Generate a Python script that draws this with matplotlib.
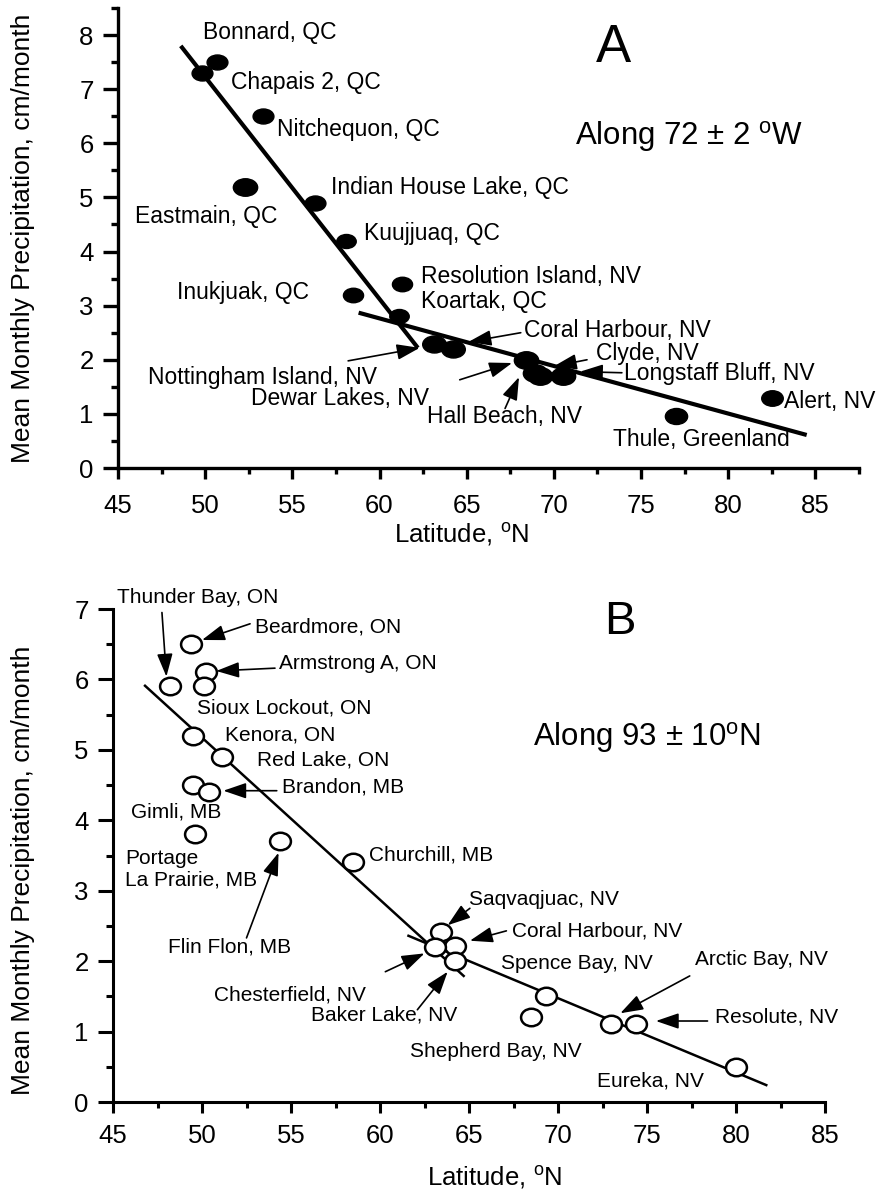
import matplotlib
matplotlib.use("Agg")
import matplotlib.pyplot as plt
from matplotlib.path import Path
from matplotlib.ticker import MultipleLocator
import numpy as np

plt.rcParams["font.family"] = ["Liberation Sans", "DejaVu Sans"]
plt.rcParams["mathtext.fontset"] = "custom"
plt.rcParams["mathtext.rm"] = "Liberation Sans"
plt.rcParams["mathtext.it"] = "Liberation Sans:italic"

# ---- panel A data: along 72 +/- 2 W (filled dots)
lat_a = [49.8, 50.7, 53.3, 52.3, 56.3, 58.1, 61.3, 58.5, 61.1, 63.1, 64.2,
         68.4, 68.9, 69.2, 70.5, 77.0, 82.5]
precip_a = [7.3, 7.5, 6.5, 5.2, 4.9, 4.2, 3.4, 3.2, 2.8, 2.3, 2.2,
            2.0, 1.75, 1.7, 1.7, 0.97, 1.3]
fit_a1_x = [48.6, 62.2]
fit_a1_y = [7.8, 2.22]
fit_a2_x = [58.8, 84.5]
fit_a2_y = [2.87, 0.61]

# ---- panel B data: along 93 +/- 10 (open circles)
lat_b = [48.2, 49.4, 50.2, 50.1, 49.5, 51.1, 49.5, 50.4, 49.6, 54.4, 58.5,
         63.4, 64.2, 63.1, 64.2, 69.3, 68.5, 73.0, 74.4, 80.0]
precip_b = [5.9, 6.5, 6.1, 5.9, 5.2, 4.9, 4.5, 4.4, 3.8, 3.7, 3.41,
            2.42, 2.22, 2.2, 2.0, 1.5, 1.21, 1.11, 1.11, 0.5]
fit_b1_x = [46.8, 64.7]
fit_b1_y = [5.91, 1.79]
fit_b2_x = [61.6, 81.7]
fit_b2_y = [2.36, 0.24]

# station labels: (text, x, y) left edge / vertical centre
labels_a = [
    ("Bonnard, QC", 49.9, 8.04),
    ("Chapais 2, QC", 51.5, 7.12),
    ("Nitchequon, QC", 54.1, 6.25),
    ("Indian House Lake, QC", 57.2, 5.18),
    ("Eastmain, QC", 46.0, 4.64),
    ("Kuujjuaq, QC", 59.1, 4.34),
    ("Resolution Island, NV", 62.4, 3.53),
    ("Koartak, QC", 62.4, 3.07),
    ("Inukjuak, QC", 48.4, 3.25),
    ("Coral Harbour, NV", 68.3, 2.55),
    ("Clyde, NV", 72.4, 2.11),
    ("Longstaff Bluff, NV", 74.0, 1.75),
    ("Alert, NV", 83.2, 1.22),
    ("Thule, Greenland", 73.4, 0.52),
    ("Hall Beach, NV", 62.7, 0.96),
    ("Dewar Lakes, NV", 52.6, 1.29),
    ("Nottingham Island, NV", 46.7, 1.68),
]
arrows_a = [  # tail -> head
    ((68.1, 2.5), (65.1, 2.33)),
    ((71.9, 2.0), (70.0, 1.88)),
    ((73.9, 1.76), (71.5, 1.78)),
    ((67.2, 1.1), (68.0, 1.68)),
    ((64.6, 1.63), (67.6, 1.94)),
    ((58.2, 1.98), (62.3, 2.22)),
]

labels_b = [
    ("Thunder Bay, ON", 45.2, 7.16),
    ("Beardmore, ON", 53.0, 6.75),
    ("Armstrong A, ON", 54.3, 6.23),
    ("Sioux Lockout, ON", 49.7, 5.6),
    ("Kenora, ON", 51.3, 5.21),
    ("Red Lake, ON", 53.1, 4.86),
    ("Brandon, MB", 54.5, 4.47),
    ("Gimli, MB", 46.0, 4.12),
    ("Portage\nLa Prairie, MB", 45.7, 3.30),
    ("Flin Flon, MB", 48.1, 2.2),
    ("Churchill, MB", 59.4, 3.51),
    ("Saqvaqjuac, NV", 65.0, 2.87),
    ("Coral Harbour, NV", 67.4, 2.43),
    ("Chesterfield, NV", 50.7, 1.52),
    ("Baker Lake, NV", 56.1, 1.24),
    ("Spence Bay, NV", 66.8, 1.97),
    ("Shepherd Bay, NV", 61.7, 0.71),
    ("Arctic Bay, NV", 77.7, 2.02),
    ("Resolute, NV", 78.8, 1.21),
    ("Eureka, NV", 72.2, 0.3),
]
arrows_b = [
    ((47.75, 6.95), (48.0, 6.04)),
    ((52.7, 6.79), (50.0, 6.56)),
    ((54.1, 6.16), (50.8, 6.12)),
    ((54.2, 4.42), (51.2, 4.42)),
    ((52.5, 2.33), (54.3, 3.54)),
    ((65.05, 2.75), (63.8, 2.51)),
    ((67.1, 2.43), (65.05, 2.29)),
    ((60.3, 1.85), (62.5, 2.11)),
    ((62.1, 1.31), (63.8, 1.85)),
    ((77.4, 1.79), (73.5, 1.26)),
    ((78.4, 1.15), (75.5, 1.15)),
]


def ellipse_marker(aspect):
    circ = Path.unit_circle()
    return Path(circ.vertices * np.array([1.0, aspect]), circ.codes)


def style_axes(ax, xmax, ymax, lw, xpad):
    for s in ("top", "right"):
        ax.spines[s].set_visible(False)
    for s in ("left", "bottom"):
        ax.spines[s].set_linewidth(lw)
    ax.set_xlim(45, xmax)
    ax.set_ylim(0, ymax)
    ax.xaxis.set_major_locator(MultipleLocator(5))
    ax.xaxis.set_minor_locator(MultipleLocator(2.5))
    ax.yaxis.set_major_locator(MultipleLocator(1))
    ax.yaxis.set_minor_locator(MultipleLocator(0.5))
    ax.tick_params(axis="x", which="major", length=8, width=lw, labelsize=18.5, pad=xpad)
    ax.tick_params(axis="x", which="minor", length=4, width=lw)
    ax.tick_params(axis="y", which="major", length=10.5, width=lw, labelsize=18.5, pad=7)
    ax.tick_params(axis="y", which="minor", length=5, width=lw)


def draw_arrows(ax, arrows):
    for tail, head in arrows:
        ax.annotate("", xy=head, xytext=tail,
                    arrowprops=dict(arrowstyle="-|>,head_length=0.7,head_width=0.24",
                                    color="black", lw=1.2, shrinkA=0, shrinkB=0,
                                    mutation_scale=20))


fig = plt.figure(figsize=(8.82, 11.89), dpi=100)
W, H = 882, 1189

# ---------------- panel A
ax1 = fig.add_axes([118 / W, 1 - 468 / H, 741 / W, 460 / H])
style_axes(ax1, 87.5, 8.5, 2.4, 11)
sizes_a = [15, 15, 15, 17.5, 15, 14, 14.5, 14.5, 14, 17, 17, 17.5, 17.5, 17.5, 17.5, 16, 15.5]
mk_a = ellipse_marker(0.72)
for x, y, s in zip(lat_a, precip_a, sizes_a):
    ax1.plot(x, y, marker=mk_a, ms=s, color="black", ls="none", zorder=3)
ax1.plot(fit_a1_x, fit_a1_y, color="black", lw=3.0, solid_capstyle="butt")
ax1.plot(fit_a2_x, fit_a2_y, color="black", lw=3.0, solid_capstyle="butt")
for txt, x, y in labels_a:
    ax1.text(x, y, txt, fontsize=16.5, ha="left", va="center")
draw_arrows(ax1, arrows_a)
ax1.text(73.4, 7.76, "A", fontsize=38, ha="center", va="center")
ax1.text(71.2, 6.12, r"Along 72 ± 2 $^{\mathrm{o}}$W", fontsize=22.5, ha="left", va="center")

# ---------------- panel B
ax2 = fig.add_axes([113 / W, 1 - 1102 / H, 712 / W, 493 / H])
style_axes(ax2, 85, 7, 2.2, 8)
mk_b = ellipse_marker(0.84)
ax2.plot(lat_b, precip_b, marker=mk_b, ms=15, mfc="white", mec="black",
         mew=1.8, ls="none", zorder=3)
ax2.plot(fit_b1_x, fit_b1_y, color="black", lw=1.8, zorder=2)
ax2.plot(fit_b2_x, fit_b2_y, color="black", lw=1.8, zorder=2)
for txt, x, y in labels_b:
    ax2.text(x, y, txt, fontsize=15, ha="left", va="center", linespacing=1.15)
draw_arrows(ax2, arrows_b)
ax2.text(73.5, 6.82, "B", fontsize=34, ha="center", va="center")
ax2.text(68.6, 5.17, r"Along 93 ± 10$^{\mathrm{o}}$N", fontsize=22.5, ha="left", va="center")

# axis titles
ylab = "Mean Monthly Precipitation, cm/month"
xlab = r"Latitude, $^{\mathrm{o}}$N"
fig.text(23 / W, 1 - 238 / H, ylab, rotation=90, fontsize=19, ha="center", va="center")
fig.text(23 / W, 1 - 870 / H, ylab, rotation=90, fontsize=19, ha="center", va="center")
fig.text(462 / W, 1 - 542 / H, xlab, fontsize=18.5, ha="center", va="baseline")
fig.text(495 / W, 1 - 1185 / H, xlab, fontsize=18.5, ha="center", va="baseline")

fig.savefig("out.png", dpi=100)
